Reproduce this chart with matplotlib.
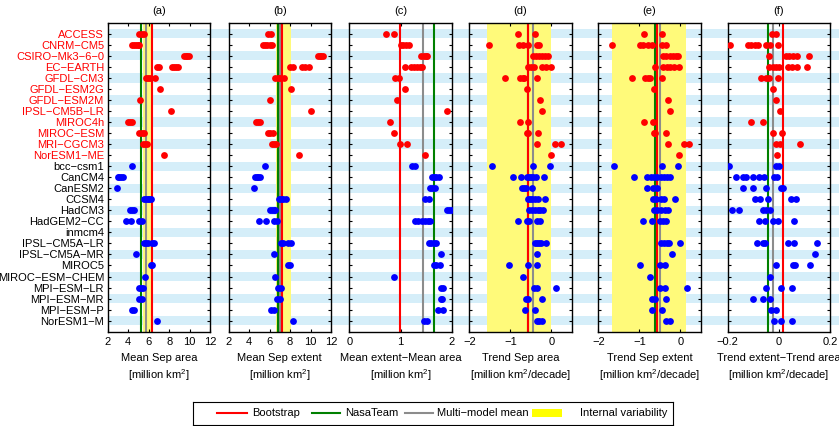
import matplotlib
matplotlib.use("Agg")
import matplotlib.pyplot as plt
from matplotlib.patches import Rectangle

plt.rcParams['font.family'] = ['Liberation Sans', 'DejaVu Sans']
plt.rcParams['mathtext.fontset'] = 'custom'
plt.rcParams['mathtext.rm'] = 'Liberation Sans'
plt.rcParams['mathtext.it'] = 'Liberation Sans:italic'
plt.rcParams['font.size'] = 8

# model names, first n_red drawn in red
models = [
    "ACCESS", "CNRM−CM5", "CSIRO−Mk3−6−0", "EC−EARTH", "GFDL−CM3", "GFDL−ESM2G",
    "GFDL−ESM2M", "IPSL−CM5B−LR", "MIROC4h", "MIROC−ESM", "MRI−CGCM3", "NorESM1−ME",
    "bcc−csm1", "CanCM4", "CanESM2", "CCSM4", "HadCM3", "HadGEM2−CC", "inmcm4",
    "IPSL−CM5A−LR", "IPSL−CM5A−MR", "MIROC5", "MIROC−ESM−CHEM", "MPI−ESM−LR",
    "MPI−ESM−MR", "MPI−ESM−P", "NorESM1−M",
]
n_red = 12

# ensemble members per model (one list per model row)
mean_area = [
    [5.1, 5.3, 5.5], [4.4, 4.6, 4.8, 5.0, 5.1], [9.4, 9.6, 9.7, 9.9],
    [6.8, 7.0, 8.3, 8.5, 8.7, 8.9], [5.7, 5.9, 6.1, 6.6], [7.06], [5.16], [8.2],
    [4.0, 4.2, 4.4], [5.1, 5.3, 5.5], [5.4, 5.6, 5.8], [7.5],
    [4.4], [3.0, 3.15, 3.3, 3.45], [2.9], [5.5, 5.7, 5.9, 6.0, 6.2], [4.2, 4.4, 4.6],
    [3.8, 4.3, 5.1, 5.3], [], [5.5, 5.7, 5.9, 6.3, 6.5], [4.74], [6.25, 6.35], [5.68],
    [5.1, 5.25, 5.4], [5.1, 5.3], [4.4, 4.6], [6.84],
]
mean_extent = [
    [5.9, 6.15], [5.4, 5.6, 5.8, 6.0, 6.2], [10.7, 10.9, 11.0, 11.2],
    [8.0, 8.3, 9.2, 9.5, 9.9], [6.55, 6.8, 7.0, 7.4], [8.06], [6.07], [10.0],
    [4.7, 4.9, 5.1], [5.85, 6.05, 6.3], [6.2, 6.4, 6.6], [8.9],
    [5.6], [4.6, 4.75, 4.9, 5.05], [4.5], [6.9, 7.1, 7.3, 7.6], [6.0, 6.2, 6.4, 6.55],
    [5.0, 5.7, 6.4, 6.7], [], [7.1, 7.3, 7.8, 8.05], [6.4], [7.8, 8.0], [6.5],
    [6.8, 7.1], [6.75, 7.0], [6.1, 6.4], [8.25],
]
diff_area = [
    [0.71, 0.87], [1.0, 1.05, 1.1, 1.17], [1.4, 1.45, 1.5, 1.52],
    [1.08, 1.21, 1.27, 1.32, 1.37, 1.42], [0.9, 0.96], [1.08], [0.93], [1.91],
    [0.79], [0.88], [0.98, 1.12], [1.47],
    [1.23, 1.29], [1.62, 1.66, 1.7, 1.75], [1.57, 1.62, 1.67], [1.48, 1.55],
    [1.9, 1.95, 1.99], [1.29, 1.35, 1.42, 1.48, 1.53, 1.58], [],
    [1.55, 1.6, 1.65, 1.69], [1.78], [1.65, 1.7, 1.76], [0.88], [1.78, 1.83],
    [1.78, 1.8], [1.74, 1.82], [1.45, 1.51],
]
trend_area = [
    [-0.82, -0.40], [-1.52, -0.79, -0.70, -0.58, -0.36, -0.30],
    [-0.45, -0.38, -0.3, -0.22, -0.15, -0.08], [-0.56, -0.5, -0.42, -0.22, -0.14, 0.0],
    [-1.13, -0.77, -0.7, -0.66, -0.35], [-0.6], [-0.28], [-0.22], [-0.77, -0.58],
    [-0.6, -0.56, -0.33], [-0.36, 0.1, 0.23], [0.0],
    [-1.44, -0.44, -0.02], [-0.94, -0.74, -0.6, -0.55, -0.5, -0.44, -0.38, -0.18],
    [-0.72, -0.66, -0.62, -0.46], [-0.58, -0.52, -0.47, -0.4, -0.33, -0.15],
    [-0.54, -0.46, -0.4, -0.33, -0.27, -0.2], [-0.82, -0.6, -0.54, -0.35, -0.28], [],
    [-0.4, -0.35, -0.3, -0.26, -0.14], [-0.34], [-1.02, -0.56, -0.34], [-0.69],
    [-0.41, -0.35, 0.12], [-0.62, -0.56, -0.23], [-0.64, -0.4], [-0.36, -0.3, -0.22],
]
trend_extent = [
    [-0.88, -0.44], [-1.66, -0.98, -0.9, -0.8, -0.7, -0.44, -0.34],
    [-0.42, -0.34, -0.26, -0.18, -0.1, -0.05], [-0.61, -0.42, -0.32, -0.24, -0.15, -0.02],
    [-1.18, -0.86, -0.8, -0.74, -0.45], [-0.64], [-0.3], [-0.24], [-0.88, -0.67],
    [-0.64, -0.61, -0.36], [-0.3, 0.08, 0.2], [-0.03],
    [-1.62, -0.44, -0.05], [-1.12, -0.81, -0.72, -0.64, -0.56, -0.48, -0.4, -0.33, -0.26],
    [-0.82, -0.66, -0.58], [-0.66, -0.6, -0.48, -0.4, -0.12],
    [-0.64, -0.56, -0.46, -0.38, -0.29], [-0.9, -0.69, -0.49, -0.43, -0.34], [],
    [-0.46, -0.4, -0.33, -0.28, 0.0], [-0.21], [-0.98, -0.49, -0.37], [-0.74],
    [-0.49, -0.38, 0.16], [-0.7, -0.61, -0.34], [-0.68, -0.45], [-0.36, -0.26],
]
trend_diff = [
    [-0.027, -0.012], [-0.19, -0.122, -0.11, -0.095, -0.083, -0.05, -0.035, -0.005],
    [-0.04, 0.027, 0.04, 0.055, 0.069, 0.116],
    [-0.038, -0.025, -0.012, 0.0, 0.034, 0.05, 0.069, 0.108],
    [-0.07, -0.05, -0.038, -0.005], [-0.025], [-0.01], [0.005], [-0.109, -0.064],
    [-0.025, 0.01], [-0.01, 0.005, 0.083], [-0.009],
    [-0.196, -0.01, 0.0], [-0.168, -0.14, -0.13, -0.103, -0.077, -0.06, -0.018, -0.008],
    [-0.142, -0.1, -0.05, 0.008, 0.017], [-0.094, -0.074, -0.042, 0.047, 0.066],
    [-0.184, -0.155, -0.064, -0.05, -0.034], [-0.077, -0.055, -0.022, -0.005, 0.057], [],
    [-0.086, -0.064, -0.055, 0.036, 0.06, 0.148], [0.14], [-0.012, 0.053, 0.062, 0.122],
    [-0.035], [-0.05, 0.008, 0.05], [-0.1, -0.064, -0.034], [-0.031, -0.012],
    [-0.021, 0.008, 0.049],
]

# observations / reference values per panel
bootstrap = [6.3, 7.25, 0.98, -0.56, -0.58, 0.014]
nasateam = [5.25, 6.85, 1.66, -0.58, -0.61, -0.043]
mm_mean = [5.75, 7.05, 1.44, -0.45, -0.49, -0.023]
int_var = [(5.4, 6.2), (6.62, 8.1), None, (-1.56, 0.0), (-1.66, 0.14), None]

titles = ["(a)", "(b)", "(c)", "(d)", "(e)", "(f)"]
xlabels = [
    "Mean Sep area\n[million km$^2$]",
    "Mean Sep extent\n[million km$^2$]",
    "Mean extent−Mean area\n[million km$^2$]",
    "Trend Sep area\n[million km$^2$/decade]",
    "Trend Sep extent\n[million km$^2$/decade]",
    "Trend extent−Trend area\n[million km$^2$/decade]",
]
xlims = [(2, 12), (2, 12), (0, 2), (-2, 0.5), (-2, 0.5), (-0.2, 0.2)]
xticks = [[2, 4, 6, 8, 10, 12], [2, 4, 6, 8, 10, 12], [0, 1, 2],
          [-2, -1, 0], [-2, -1, 0], [-0.2, 0, 0.2]]
xticklabels = [None, None, None, None, None, ["−0.2", "0", "0.2"]]
panel_data = [mean_area, mean_extent, diff_area, trend_area, trend_extent, trend_diff]

W, H = 839, 426
fig = plt.figure(figsize=(W / 100, H / 100), dpi=100)

ax_top, ax_bot = 22.7, 331.7
bottom = (H - ax_bot) / H
height = (ax_bot - ax_top) / H
lefts = [107.7, 228.5, 349.3, 469.3, 598.3, 727.8]
width = 102.5 / W

stripe = '#d5eef9'
yellow = '#fffa7a'
red, green, grey = '#ff0000', '#008000', '#8c8c8c'
nrow = len(models)

# light blue row stripes behind all panels, running to the right edge
bg = fig.add_axes([lefts[0] / W, bottom, 1 - lefts[0] / W, height])
bg.set_xlim(0, 1)
bg.set_ylim(nrow + 1, 0)
bg.axis('off')
bg.set_zorder(0)
for r in range(1, nrow + 1, 2):
    bg.axhspan(r - 0.42, r + 0.42, color=stripe, lw=0)

rows = list(range(1, nrow + 1))
for k in range(6):
    ax = fig.add_axes([lefts[k] / W, bottom, width, height])
    ax.set_zorder(1)
    ax.set_facecolor('none')
    if int_var[k] is not None:
        ax.axvspan(int_var[k][0], int_var[k][1], color=yellow, lw=0, zorder=1)
    for i, vals in enumerate(panel_data[k]):
        c = red if i < n_red else '#0000ff'
        ax.plot(vals, [i + 1] * len(vals), 'o', color=c, ms=4.9, mew=0, zorder=3)
    ax.axvline(mm_mean[k], color=grey, lw=1.5, zorder=2)
    ax.axvline(nasateam[k], color=green, lw=1.5, zorder=2)
    ax.axvline(bootstrap[k], color=red, lw=1.5, zorder=2)

    ax.set_xlim(*xlims[k])
    ax.set_ylim(nrow + 1, 0)
    ax.set_xticks(xticks[k])
    if xticklabels[k] is not None:
        ax.set_xticklabels(xticklabels[k])
    ax.set_yticks(rows)
    if k == 0:
        ax.set_yticklabels(models)
        for i, lab in enumerate(ax.get_yticklabels()):
            lab.set_color(red if i < n_red else 'black')
    else:
        ax.set_yticklabels([])
    ax.tick_params(direction='in', top=True, right=True, length=2.5, width=0.8,
                   labelsize=8)
    ax.tick_params(axis='y', pad=2.6)
    ax.tick_params(axis='x', pad=3.6)
    for s in ax.spines.values():
        s.set_linewidth(1.0)
    ax.set_title(titles[k], fontsize=8, pad=6.5)
    ax.set_xlabel(xlabels[k], fontsize=8, labelpad=4.5, linespacing=1.35)

# legend box drawn in pixel units
lx0, lx1, ly0, ly1 = 193.3, 672.7, 401.7, 425.0
lg = fig.add_axes([lx0 / W, (H - ly1) / H, (lx1 - lx0) / W, (ly1 - ly0) / H])
lg.set_xlim(lx0, lx1)
lg.set_ylim(ly1, ly0)
lg.set_xticks([])
lg.set_yticks([])
for s in lg.spines.values():
    s.set_linewidth(0.8)
yc = 413.3
items = [
    ('line', red, 216.7, 246.7, 252, "Bootstrap"),
    ('line', green, 311.7, 340, 345, "NasaTeam"),
    ('line', grey, 405, 433, 437, "Multi−model mean"),
    ('patch', '#ffff00', 531.7, 561.7, 580, "Internal variability"),
]
for kind, c, xa, xb, xt, txt in items:
    if kind == 'line':
        lg.plot([xa, xb], [yc, yc], color=c, lw=1.5)
    else:
        lg.add_patch(Rectangle((xa, 409), xb - xa, 8, color=c, lw=0))
    lg.text(xt, yc, txt, va='center', ha='left', fontsize=8)

fig.savefig("out.png", dpi=100)
